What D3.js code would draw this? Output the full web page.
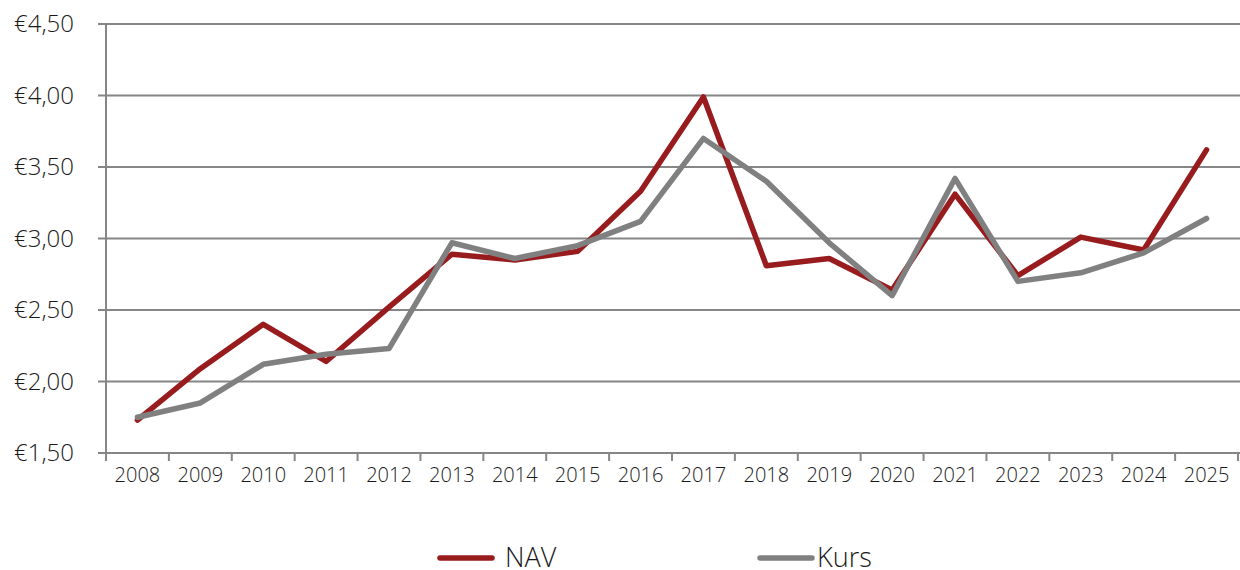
<!DOCTYPE html>
<html lang="nl">
<head>
  <meta charset="UTF-8" />
  <title>NAV en Kurs</title>
  <script src="https://d3js.org/d3.v7.min.js"></script>
  <style>
    body { margin: 0; background: #fff; font-family: "Open Sans", "Noto Sans", sans-serif; font-weight: 300; }
    svg text { font-weight: 300; }
    .grid line { stroke: #868686; stroke-width: 2; }
    .axis text { fill: #1a1a1a; }
  </style>
</head>
<body>
  <svg width="1240" height="570"></svg>

  <script>
  const years = ["2008","2009","2010","2011","2012","2013","2014","2015","2016",
                 "2017","2018","2019","2020","2021","2022","2023","2024","2025"];
  const nav  = [1.73, 2.09, 2.40, 2.14, 2.52, 2.89, 2.85, 2.91, 3.33,
                3.99, 2.81, 2.86, 2.64, 3.31, 2.74, 3.01, 2.92, 3.62];
  const kurs = [1.75, 1.85, 2.12, 2.19, 2.23, 2.97, 2.86, 2.95, 3.12,
                3.70, 3.40, 2.97, 2.60, 3.42, 2.70, 2.76, 2.90, 3.14];
  const yTicks = [1.5, 2.0, 2.5, 3.0, 3.5, 4.0, 4.5];

  const svg = d3.select("svg");
  const plotLeft = 106, plotRight = 1238, plotTop = 24, plotBottom = 453;

  const x = d3.scaleBand().domain(years).range([plotLeft, plotRight]).padding(0);
  const y = d3.scaleLinear().domain([1.5, 4.5]).range([plotBottom, plotTop]);
  const fmt = v => "€" + v.toFixed(2).replace(".", ",");

  // horizontal gridlines
  svg.append("g").attr("class", "grid")
    .selectAll("line")
    .data(yTicks)
    .enter().append("line")
    .attr("x1", plotLeft - 8)
    .attr("x2", 1240)
    .attr("y1", d => y(d))
    .attr("y2", d => y(d));

  // y axis line
  svg.append("line")
    .attr("x1", plotLeft).attr("x2", plotLeft)
    .attr("y1", plotTop).attr("y2", plotBottom + 8)
    .attr("stroke", "#868686").attr("stroke-width", 2);

  // y labels
  svg.append("g").attr("class", "axis")
    .style("font-size", "24px")
    .selectAll("text")
    .data(yTicks)
    .enter().append("text")
    .attr("x", 74)
    .attr("y", d => y(d))
    .attr("dy", "0.35em")
    .attr("text-anchor", "end")
    .text(fmt);

  // x labels
  const xAxis = d3.axisBottom(x).tickSize(0).tickFormat(d => d);
  const gx = svg.append("g").attr("class", "axis")
    .attr("transform", `translate(0,${plotBottom})`)
    .call(xAxis);
  gx.select(".domain").remove();
  gx.selectAll("text")
    .attr("y", 15)
    .attr("dy", "0.71em")
    .attr("fill", "#1a1a1a")
    .style("font-size", "20px")
    .style("font-weight", 300)
    .style("font-family", "\"Open Sans\", \"Noto Sans\", sans-serif");

  // x tick marks between categories
  svg.append("g")
    .selectAll("line")
    .data(years.concat(["end"]))
    .enter().append("line")
    .attr("x1", (d, i) => plotLeft + i * x.bandwidth())
    .attr("x2", (d, i) => plotLeft + i * x.bandwidth())
    .attr("y1", plotBottom)
    .attr("y2", plotBottom + 8)
    .attr("stroke", "#868686").attr("stroke-width", 2);

  const line = d3.line()
    .x((d, i) => x(years[i]) + x.bandwidth() / 2)
    .y(d => y(d));

  const series = [
    { name: "NAV", values: nav, color: "#981b1e" },
    { name: "Kurs", values: kurs, color: "#808080" }
  ];

  svg.append("g")
    .selectAll("path")
    .data(series)
    .enter().append("path")
    .attr("fill", "none")
    .attr("stroke", d => d.color)
    .attr("stroke-width", 5.5)
    .attr("stroke-linejoin", "round")
    .attr("stroke-linecap", "round")
    .attr("d", d => line(d.values));

  // legend
  const legendX = [437, 757];
  const lg = svg.append("g")
    .selectAll("g")
    .data(series)
    .enter().append("g")
    .attr("transform", (d, i) => `translate(${legendX[i]},558)`);
  lg.append("line")
    .attr("x1", 3).attr("x2", 55)
    .attr("stroke", d => d.color)
    .attr("stroke-width", 5.5)
    .attr("stroke-linecap", "round");
  lg.append("text")
    .attr("x", (d, i) => i === 0 ? 68 : 60)
    .attr("y", 0)
    .attr("dy", "0.35em")
    .style("font-size", "27px")
    .attr("fill", "#1a1a1a")
    .text(d => d.name);
  </script>
</body>
</html>
